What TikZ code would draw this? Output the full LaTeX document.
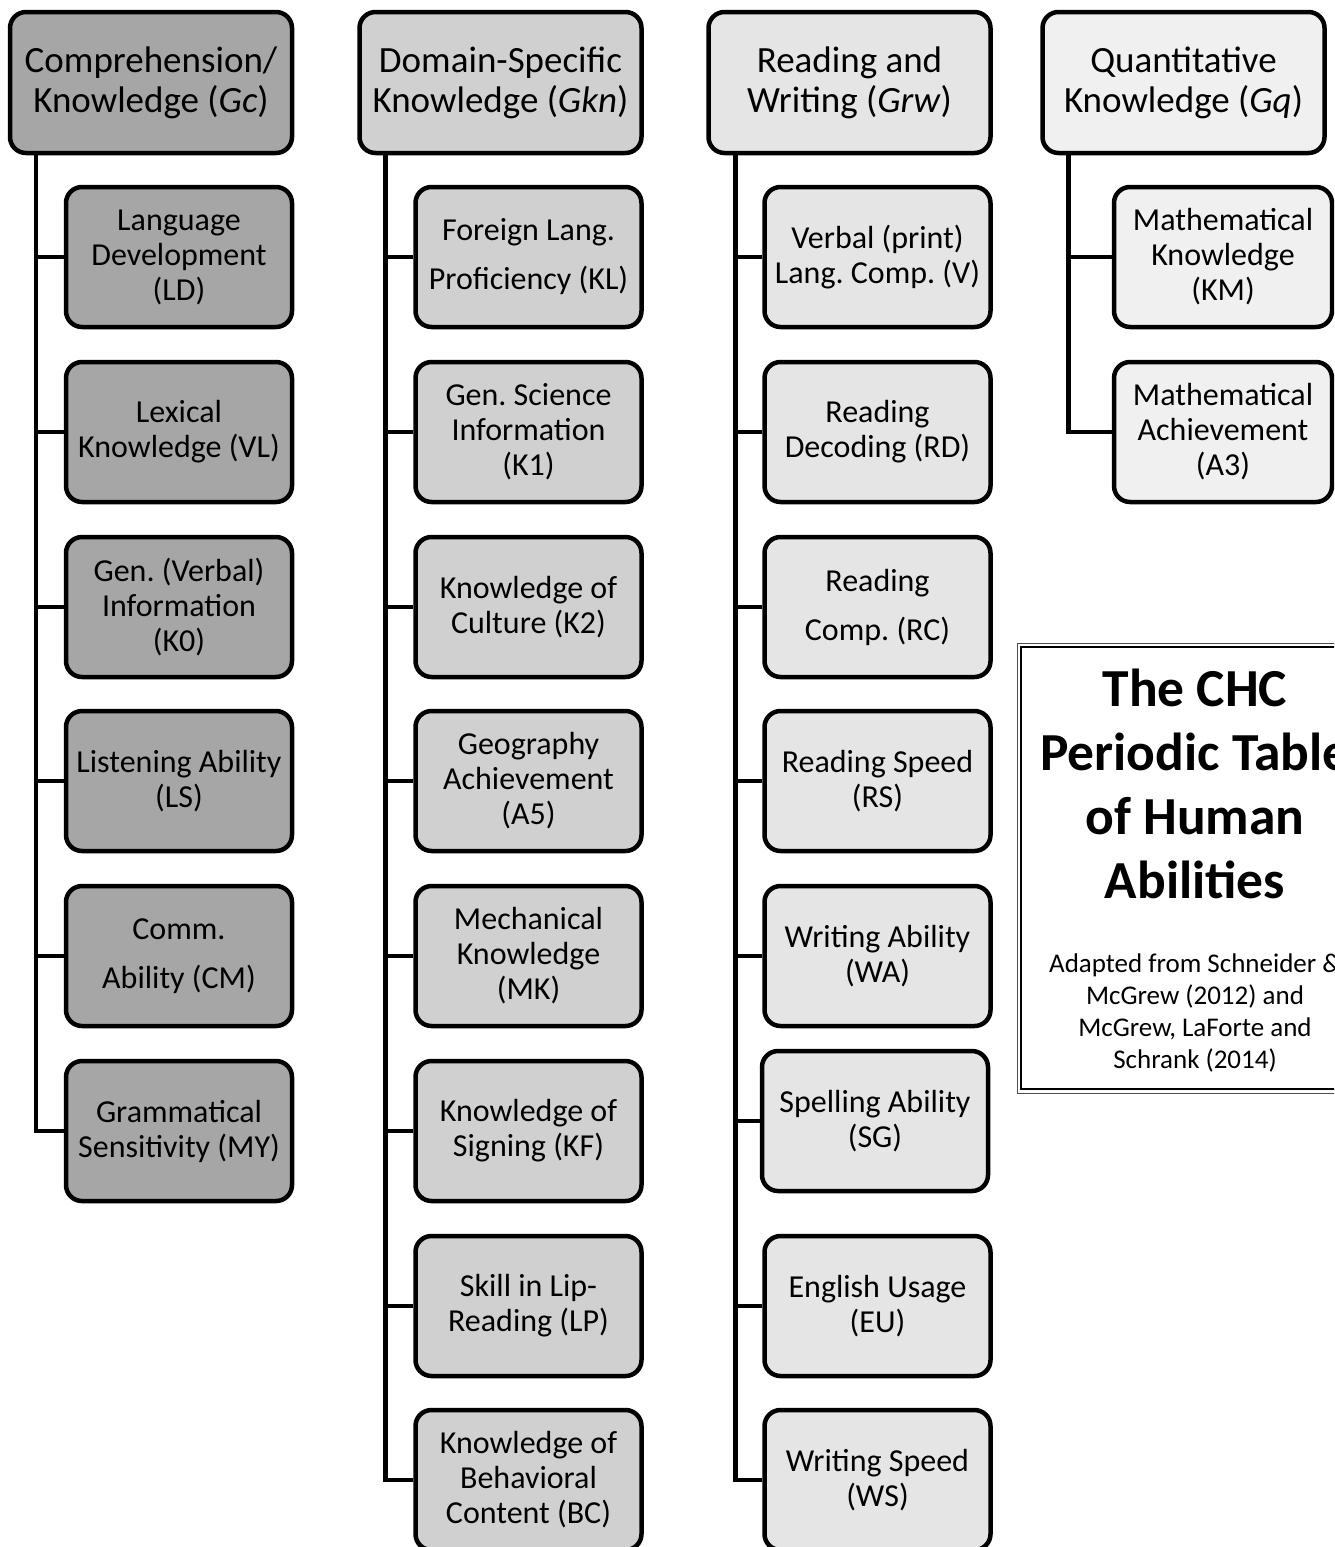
\documentclass[tikz,border=0pt]{standalone}
\usepackage{fontspec}
\setmainfont{Carlito}
\usepackage{tikz}
\usetikzlibrary{positioning}
\definecolor{gcgray}{RGB}{166,166,166}
\definecolor{gkngray}{RGB}{208,208,208}
\definecolor{grwgray}{RGB}{229,229,229}
\definecolor{gqgray}{RGB}{240,240,240}
\tikzset{broad/.style={rectangle,rounded corners=16pt,draw=black,line width=4.5pt,minimum width=282pt,minimum height=141pt,align=center,inner sep=0pt,font=\fontsize{37}{40}\selectfont},
  ability/.style={rectangle,rounded corners=16pt,draw=black,line width=4.5pt,minimum width=226pt,minimum height=140pt,align=center,inner sep=0pt,font=\fontsize{32}{35}\selectfont},
  spine/.style={line width=4.5pt,line join=miter},
  branch/.style={line width=4pt}}

\begin{document}
\frenchspacing
\begin{tikzpicture}[x=1pt,y=-1pt]
\useasboundingbox (0,0) rectangle (1334,1547);
\fill[white] (0,0) rectangle (1334,1547);
\clip (0,0) rectangle (1334,1547);

% Gc
\node (gc) at (151,82.5)[broad,fill=gcgray]{Comprehension/\\Knowledge (\textit{Gc})};
\node (ld) at (179,257)[ability,fill=gcgray]{Language\\Development\\(LD)};
\node (vl) at (179,432)[ability,fill=gcgray]{Lexical\\Knowledge (VL)};
\node (kz) at (179,607)[ability,fill=gcgray]{Gen. (Verbal)\\Information\\(K0)};
\node (ls) at (179,781)[ability,fill=gcgray]{Listening Ability\\(LS)};
\node (cm) at (179,956)[ability,fill=gcgray]{Comm.\\[14pt]Ability (CM)};
\node (my) at (179,1131)[ability,fill=gcgray]{Grammatical\\Sensitivity (MY)};

% Gkn
\node (gkn) at (500.5,82.5)[broad,fill=gkngray]{Domain-Specific\\Knowledge (\textit{Gkn})};
\node (kl) at (528.5,257)[ability,fill=gkngray]{Foreign Lang.\\[14pt]Proficiency (KL)};
\node (ka) at (528.5,432)[ability,fill=gkngray]{Gen. Science\\Information\\(K1)};
\node (kb) at (528.5,607)[ability,fill=gkngray]{Knowledge of\\Culture (K2)};
\node (af) at (528.5,781)[ability,fill=gkngray]{Geography\\Achievement\\(A5)};
\node (mk) at (528.5,956)[ability,fill=gkngray]{Mechanical\\Knowledge\\(MK)};
\node (kf) at (528.5,1131)[ability,fill=gkngray]{Knowledge of\\Signing (KF)};
\node (lp) at (528.5,1306)[ability,fill=gkngray]{Skill in Lip-\\Reading (LP)};
\node (bc) at (528.5,1480)[ability,fill=gkngray]{Knowledge of\\Behavioral\\Content (BC)};

% Grw
\node (grw) at (849.5,82.5)[broad,fill=grwgray]{Reading and\\Writing (\textit{Grw})};
\node (v) at (877.5,257)[ability,fill=grwgray]{Verbal (print)\\Lang. Comp. (V)};
\node (rd) at (877.5,432)[ability,fill=grwgray]{Reading\\Decoding (RD)};
\node (rc) at (877.5,607)[ability,fill=grwgray]{Reading\\[14pt]Comp. (RC)};
\node (rs) at (877.5,781)[ability,fill=grwgray]{Reading Speed\\(RS)};
\node (wa) at (877.5,956)[ability,fill=grwgray]{Writing Ability\\(WA)};
\node (sg) at (875,1121)[ability,fill=grwgray]{Spelling Ability\\(SG)};
\node (eu) at (877.5,1306)[ability,fill=grwgray]{English Usage\\(EU)};
\node (ws) at (877.5,1480)[ability,fill=grwgray]{Writing Speed\\(WS)};

% Gq
\node (gq) at (1183.5,82.5)[broad,fill=gqgray]{Quantitative\\Knowledge (\textit{Gq})};
\node (km) at (1223,257)[ability,minimum width=218pt,fill=gqgray]{Mathematical\\Knowledge\\(KM)};
\node (at) at (1223,432)[ability,minimum width=218pt,fill=gqgray]{Mathematical\\Achievement\\(A3)};

% spines
\coordinate (gcs) at ([xshift=28pt]gc.south west);
\coordinate (gkns) at ([xshift=28pt]gkn.south west);
\coordinate (grws) at ([xshift=29pt]grw.south west);
\coordinate (gqs) at ([xshift=28pt]gq.south west);
\draw[spine] (gcs) |- (my.west);
\draw[spine] (gkns) |- (bc.west);
\draw[spine] (grws) |- (ws.west);
\draw[spine] (gqs) |- (at.west);
\foreach \n in {ld,vl,kz,ls,cm} \draw[branch] (\n.west) -- (\n.west -| gcs);
\foreach \n in {kl,ka,kb,af,mk,kf,lp} \draw[branch] (\n.west) -- (\n.west -| gkns);
\foreach \n in {v,rd,rc,rs,wa,sg,eu} \draw[branch] (\n.west) -- (\n.west -| grws);
\draw[branch] (km.west) -- (km.west -| gqs);

% title
\draw[line width=1pt,black!70] (1017,643) rectangle (1345,1093);
\draw[line width=2pt] (1021,647) rectangle (1345,1089);
\node (title) at (1195,784)[align=center,font=\fontsize{53.5}{64}\selectfont\bfseries]{The CHC\\Periodic Table\\of Human\\Abilities};
\node (source) at (1195,1013)[align=center,font=\fontsize{27}{32}\selectfont]{Adapted from Schneider \&\\McGrew (2012) and\\McGrew, LaForte and\\Schrank (2014)};
\end{tikzpicture}
\end{document}
